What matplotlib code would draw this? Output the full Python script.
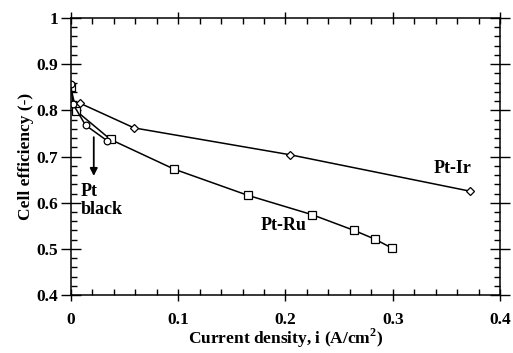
import matplotlib
matplotlib.use("Agg")
import matplotlib.pyplot as plt
from matplotlib.ticker import MultipleLocator

plt.rcParams['font.family'] = ['Liberation Serif', 'DejaVu Serif']
plt.rcParams['font.weight'] = 'bold'
plt.rcParams['mathtext.fontset'] = 'custom'
plt.rcParams['mathtext.rm'] = 'Liberation Serif:bold'
plt.rcParams['mathtext.bf'] = 'Liberation Serif:bold'

# data
pt_black_i = [0.0, 0.002, 0.0137, 0.034]
pt_black_eff = [0.858, 0.814, 0.768, 0.734]

pt_ru_i = [0.0, 0.005, 0.037, 0.096, 0.165, 0.225, 0.264, 0.2835, 0.299]
pt_ru_eff = [0.850, 0.799, 0.737, 0.673, 0.616, 0.574, 0.540, 0.521, 0.502]

pt_ir_i = [0.009, 0.059, 0.204, 0.372]
pt_ir_eff = [0.815, 0.762, 0.704, 0.625]

fig = plt.figure(figsize=(5.13, 3.53), dpi=100)
ax = fig.add_axes([0.138, 0.164, 0.837, 0.785])

ax.plot(pt_ir_i, pt_ir_eff, color='black', lw=1.1, marker='D', ms=3.6,
        mfc='white', mec='black', mew=0.9)
ax.plot(pt_ru_i, pt_ru_eff, color='black', lw=1.1, marker='s', ms=5.2,
        mfc='white', mec='black', mew=0.9)
ax.plot(pt_black_i, pt_black_eff, color='black', lw=1.1, marker='o', ms=4.8,
        mfc='white', mec='black', mew=0.9)

# arrow pointing to the Pt black curve
ax.annotate('', xy=(0.0214, 0.652), xytext=(0.0214, 0.748),
            arrowprops=dict(arrowstyle='-|>', color='black', lw=1.3,
                            mutation_scale=11))

ax.text(0.009, 0.605, 'Pt\nblack', fontsize=13, fontweight='bold',
        ha='left', va='center', linespacing=1.05)
ax.text(0.198, 0.551, 'Pt-Ru', fontsize=13, fontweight='bold',
        ha='center', va='center')
ax.text(0.356, 0.674, 'Pt-Ir', fontsize=13, fontweight='bold',
        ha='center', va='center')

ax.set_xlim(0, 0.4)
ax.set_ylim(0.4, 1.0)
ax.xaxis.set_major_locator(MultipleLocator(0.1))
ax.xaxis.set_minor_locator(MultipleLocator(0.02))
ax.yaxis.set_major_locator(MultipleLocator(0.1))
ax.yaxis.set_minor_locator(MultipleLocator(0.02))
ax.xaxis.set_major_formatter(plt.FuncFormatter(lambda v, p: f'{v:g}'))
ax.yaxis.set_major_formatter(plt.FuncFormatter(lambda v, p: f'{v:g}'))

ax.tick_params(axis='x', which='major', direction='inout', length=9, width=1,
               labelsize=12.5, top=True, pad=8)
ax.tick_params(axis='y', which='major', direction='inout', length=14, width=1,
               labelsize=12.5, right=True, pad=2)
ax.tick_params(which='minor', direction='in', length=4, width=1,
               top=True, right=True)
for lab in ax.get_xticklabels() + ax.get_yticklabels():
    lab.set_fontweight('bold')
for s in ax.spines.values():
    s.set_linewidth(1.1)

ax.set_xlabel('Current density, i (A/cm$^\\mathbf{2}$)', fontsize=12.5,
              fontweight='bold', labelpad=-1)
ax.set_ylabel('Cell efficiency (-)', fontsize=12.5, fontweight='bold',
              labelpad=1.5)

fig.savefig('out.png', dpi=100)
